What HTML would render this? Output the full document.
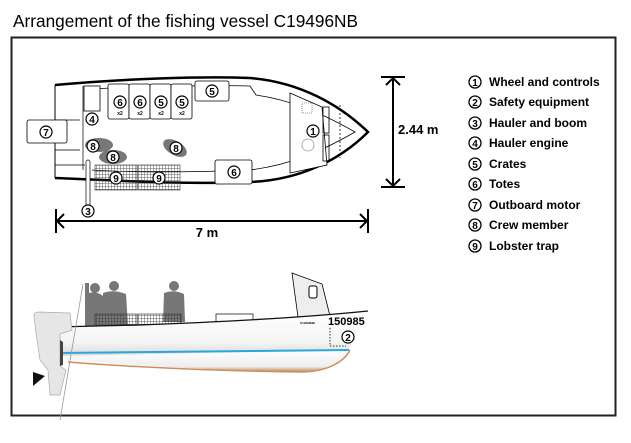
<!DOCTYPE html>
<html><head><meta charset="utf-8"><style>
html,body{margin:0;padding:0;background:#fff;}
svg{display:block;}
.t{font-family:"Liberation Sans",sans-serif;}
.b{font-family:"Liberation Sans",sans-serif;font-weight:bold;}
</style></head><body>
<svg width="631" height="443" viewBox="0 0 631 443" xmlns="http://www.w3.org/2000/svg">
<defs>
<pattern id="grid" width="3" height="3" patternUnits="userSpaceOnUse"><path d="M0 0H3M0 0V3" stroke="#333" stroke-width="0.8" fill="none"/></pattern>
<linearGradient id="hull" x1="0" y1="0" x2="0" y2="1"><stop offset="0" stop-color="#fff"/><stop offset="0.7" stop-color="#f4f4f4"/><stop offset="1" stop-color="#d8d8d8"/></linearGradient>
<linearGradient id="keel" x1="0" y1="0" x2="0" y2="1"><stop offset="0" stop-color="#fff"/><stop offset="0.75" stop-color="#eee"/><stop offset="1" stop-color="#c08850"/></linearGradient>
</defs>
<text class="t" x="13" y="27" font-size="17.5" textLength="345" lengthAdjust="spacingAndGlyphs" fill="#000">Arrangement of the fishing vessel C19496NB</text>
<rect x="11.5" y="37.5" width="604" height="378" fill="none" stroke="#222" stroke-width="2"/>

<!-- top view hull -->
<path d="M55 85 C120 79 200 76 250 78 C300 82 340 105 368 132 C340 160 300 180 250 182 C180 185 110 180 55 178 Z" fill="#fff" stroke="none"/>
<path d="M55 85 C120 79 200 76 250 78 C300 82 340 105 368 132 C340 160 300 180 250 182 C180 185 110 180 55 178" fill="none" stroke="#000" stroke-width="2.5"/>
<path d="M55 85 V178" stroke="#000" stroke-width="1"/>
<path d="M90 89 C150 86 220 85 250 86 L256 95 C290 100 320 112 355 132 C320 152 290 165 250 170 C180 173 120 172 92 170" fill="none" stroke="#000" stroke-width="0.8"/>
<path d="M55 120 H80 M55 150 H80 M55 165 H85 M83 86 V170" stroke="#000" stroke-width="0.7" fill="none"/>
<path d="M290 93 L322 107 L327 165 L290 173 Z" fill="#fff" stroke="#000" stroke-width="0.8"/>
<rect x="323" y="107" width="6" height="26" fill="none" stroke="#000" stroke-width="0.8"/>
<rect x="323" y="135" width="6" height="26" fill="none" stroke="#000" stroke-width="0.8"/>
<path d="M340 105 V158" stroke="#000" stroke-width="0.8" stroke-dasharray="2 2"/>
<rect x="302" y="103" width="10" height="10" fill="none" stroke="#999" stroke-dasharray="1 1"/>
<circle cx="308" cy="145" r="6" fill="none" stroke="#999" stroke-width="0.8"/>
<circle cx="313" cy="131" r="6" fill="#fff" stroke="#000" stroke-width="1.2"/><text class="b" x="313" y="135" font-size="10" text-anchor="middle">1</text>
<!-- motor 7 -->
<rect x="27" y="120" width="40" height="23" rx="2" fill="#fff" stroke="#000" stroke-width="0.8"/>
<circle cx="46" cy="132" r="6" fill="#fff" stroke="#000" stroke-width="1.2"/><text class="b" x="46" y="136" font-size="10" text-anchor="middle">7</text>
<!-- box 4 -->
<rect x="84" y="86" width="16" height="25" fill="#fff" stroke="#000" stroke-width="0.8"/>
<circle cx="92" cy="119" r="6" fill="#fff" stroke="#000" stroke-width="1.2"/><text class="b" x="92" y="123" font-size="10" text-anchor="middle">4</text>
<!-- crates/totes -->
<g stroke="#000" stroke-width="0.8" fill="#fff">
<rect x="108" y="84" width="21" height="35" rx="2"/><rect x="129" y="84" width="21" height="35" rx="2"/>
<rect x="150" y="84" width="21" height="35" rx="2"/><rect x="171" y="84" width="21" height="35" rx="2"/>
<rect x="195" y="81" width="34" height="20" rx="2"/>
<rect x="215" y="160" width="37" height="24" rx="2"/>
</g>
<g class="b" font-size="10" text-anchor="middle">
<circle cx="120" cy="102" r="6" fill="#fff" stroke="#000" stroke-width="1.2"/><text x="120" y="106">6</text>
<circle cx="140" cy="102" r="6" fill="#fff" stroke="#000" stroke-width="1.2"/><text x="140" y="106">6</text>
<circle cx="161" cy="102" r="6" fill="#fff" stroke="#000" stroke-width="1.2"/><text x="161" y="106">5</text>
<circle cx="182" cy="102" r="6" fill="#fff" stroke="#000" stroke-width="1.2"/><text x="182" y="106">5</text>
<circle cx="212" cy="91" r="6" fill="#fff" stroke="#000" stroke-width="1.2"/><text x="212" y="95">5</text>
<circle cx="234" cy="172" r="6" fill="#fff" stroke="#000" stroke-width="1.2"/><text x="234" y="176">6</text>
</g>
<g class="b" font-size="5" text-anchor="middle"><text x="120" y="115">x2</text><text x="140" y="115">x2</text><text x="161" y="115">x2</text><text x="182" y="115">x2</text></g>
<!-- traps -->
<rect x="95" y="165" width="42" height="25" fill="url(#grid)" stroke="#333" stroke-width="0.6"/>
<rect x="138" y="165" width="42" height="25" fill="url(#grid)" stroke="#333" stroke-width="0.6"/>
<!-- boom -->
<rect x="86" y="160" width="4" height="46" rx="2" fill="#fff" stroke="#000" stroke-width="0.7"/>
<circle cx="88" cy="211" r="6" fill="#fff" stroke="#000" stroke-width="1.2"/><text class="b" x="88" y="215" font-size="10" text-anchor="middle">3</text>
<!-- crew -->
<ellipse cx="99" cy="145" rx="14" ry="7" fill="#777"/><ellipse cx="113" cy="157" rx="14" ry="7" fill="#777"/>
<ellipse cx="175" cy="148" rx="13" ry="7" fill="#777" transform="rotate(30 175 148)"/>
<g class="b" font-size="10" text-anchor="middle">
<circle cx="93" cy="146" r="6" fill="#fff" stroke="#000" stroke-width="1.2"/><text x="93" y="150">8</text>
<circle cx="113" cy="157" r="6" fill="#fff" stroke="#000" stroke-width="1.2"/><text x="113" y="161">8</text>
<circle cx="176" cy="148" r="6" fill="#fff" stroke="#000" stroke-width="1.2"/><text x="176" y="152">8</text>
<circle cx="116" cy="178" r="6" fill="#fff" stroke="#000" stroke-width="1.2"/><text x="116" y="182">9</text>
<circle cx="159" cy="178" r="6" fill="#fff" stroke="#000" stroke-width="1.2"/><text x="159" y="182">9</text>
</g>
<!-- 7m -->
<path d="M56 209 V233 M368 209 V233 M57 221 H367 M64 214 L57 221 L64 228 M360 214 L367 221 L360 228" stroke="#000" stroke-width="2" fill="none"/>
<text class="b" x="207" y="237" font-size="13" text-anchor="middle">7 m</text>
<!-- 2.44 -->
<path d="M381 77 H405 M381 187 H405 M393 78 V186 M386 85 L393 78 L400 85 M386 179 L393 186 L400 179" stroke="#000" stroke-width="2" fill="none"/>
<text class="b" x="398" y="134" font-size="13">2.44 m</text>
<!-- legend -->
<g class="b" font-size="12">
<g font-size="10" text-anchor="middle">
<circle cx="475" cy="82" r="6" fill="#fff" stroke="#000" stroke-width="1.3"/><text x="475" y="86">1</text>
<circle cx="475" cy="102" r="6" fill="#fff" stroke="#000" stroke-width="1.3"/><text x="475" y="106">2</text>
<circle cx="475" cy="123" r="6" fill="#fff" stroke="#000" stroke-width="1.3"/><text x="475" y="127">3</text>
<circle cx="475" cy="143" r="6" fill="#fff" stroke="#000" stroke-width="1.3"/><text x="475" y="147">4</text>
<circle cx="475" cy="164" r="6" fill="#fff" stroke="#000" stroke-width="1.3"/><text x="475" y="168">5</text>
<circle cx="475" cy="184" r="6" fill="#fff" stroke="#000" stroke-width="1.3"/><text x="475" y="188">6</text>
<circle cx="475" cy="205" r="6" fill="#fff" stroke="#000" stroke-width="1.3"/><text x="475" y="209">7</text>
<circle cx="475" cy="225" r="6" fill="#fff" stroke="#000" stroke-width="1.3"/><text x="475" y="229">8</text>
<circle cx="475" cy="246" r="6" fill="#fff" stroke="#000" stroke-width="1.3"/><text x="475" y="250">9</text>
</g>
<text x="489" y="86">Wheel and controls</text>
<text x="489" y="106">Safety equipment</text>
<text x="489" y="127">Hauler and boom</text>
<text x="489" y="147">Hauler engine</text>
<text x="489" y="168">Crates</text>
<text x="489" y="188">Totes</text>
<text x="489" y="209">Outboard motor</text>
<text x="489" y="229">Crew member</text>
<text x="489" y="250">Lobster trap</text>
</g>

<!-- side view -->
<g fill="#777">
<rect x="85" y="283" width="4" height="45"/>
<circle cx="95" cy="288" r="5"/><path d="M86 294 Q95 290 103 296 L104 326 L86 326 Z"/>
<circle cx="114" cy="286" r="5"/><path d="M103 293 Q114 289 126 294 L128 326 L102 326 Z"/>
<circle cx="174" cy="286" r="5"/><path d="M164 293 Q174 289 184 294 L185 322 L163 322 Z"/>
</g>
<rect x="95" y="314" width="42" height="14" fill="url(#grid)" stroke="#333" stroke-width="0.6"/>
<rect x="138" y="314" width="43" height="14" fill="url(#grid)" stroke="#333" stroke-width="0.6"/>
<rect x="216" y="314" width="37" height="13" fill="#fff" stroke="#000" stroke-width="0.7"/>
<path d="M292 273 L322 284 L330 316 L298 317 Z" fill="#eee" stroke="#000" stroke-width="0.8"/>
<rect x="309" y="286" width="8" height="12" rx="2" fill="#fff" stroke="#000" stroke-width="1"/>
<path d="M56 327 L140 325 C220 322 300 318 368 311 C360 325 352 345 348 350 L62 356 Z" fill="url(#hull)" stroke="none"/>
<path d="M62 356 L348 350 C340 365 320 372 300 372 C220 371 120 364 68 360 Z" fill="url(#keel)"/>
<path d="M56 327 L140 325 C220 322 300 318 368 311" stroke="#111" stroke-width="1.3" fill="none"/>
<path d="M60 353 L349 350" stroke="#2aa8dc" stroke-width="2" fill="none"/>
<path d="M68 362 C130 367 220 371 300 372 C330 372 345 360 350 350" stroke="#c89060" stroke-width="1.5" fill="none"/>
<path d="M330 328 V346 H346" stroke="#000" stroke-width="0.8" stroke-dasharray="1.5 1.5" fill="none"/>
<text class="b" x="328" y="325" font-size="11">150985</text>
<text class="b" x="300" y="324" font-size="3">C19496NB</text>
<circle cx="348" cy="337" r="6" fill="#fff" stroke="#000" stroke-width="1.2"/><text class="b" x="348" y="341" font-size="10" text-anchor="middle">2</text>
<path d="M34 316 Q33 312 40 312 L70 313 L72 330 L60 334 L60 366 L66 370 L60 395 L50 395 L48 370 L40 360 L36 333 Z" fill="#e6e6e6" stroke="#aaa" stroke-width="0.7"/>
<path d="M33 372 L45 376 L33 386" fill="#111"/>
<path d="M60 340 V366 L63 365 V342 Z" fill="#444"/>
<path d="M83 284 L60 420" stroke="#999" stroke-width="0.8"/>
</svg>
</body></html>
